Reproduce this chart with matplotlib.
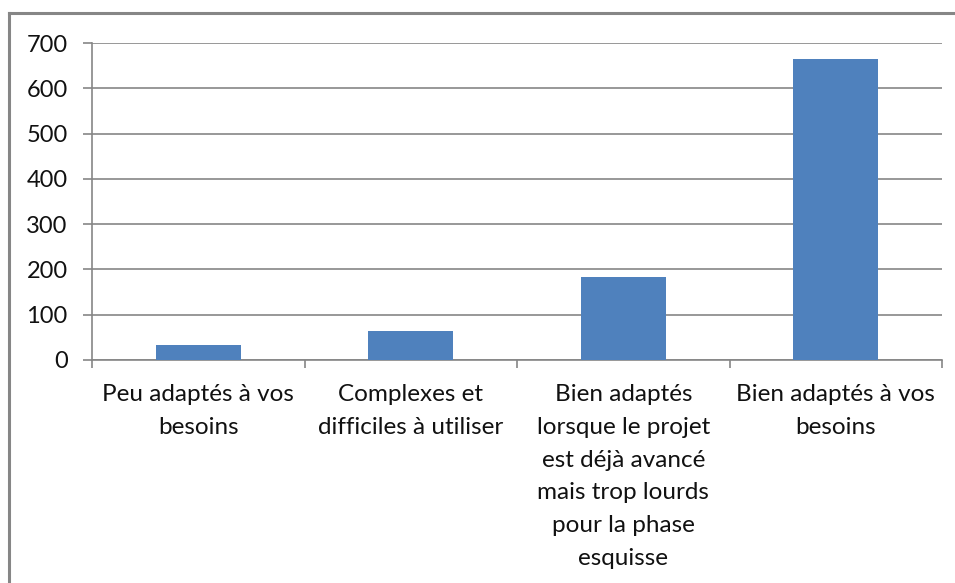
import matplotlib
matplotlib.use("Agg")
import matplotlib.pyplot as plt
from matplotlib.lines import Line2D
import numpy as np

categories = [
    "Peu adaptés à vos\nbesoins",
    "Complexes et\ndifficiles à utiliser",
    "Bien adaptés\nlorsque le projet\nest déjà avancé\nmais trop lourds\npour la phase\nesquisse",
    "Bien adaptés à vos\nbesoins",
]
values = [34, 65, 184, 664]
yticks = [0, 100, 200, 300, 400, 500, 600, 700]

plt.rcParams['font.family'] = ['Lato', 'DejaVu Sans']
W, H = 955, 583
fig = plt.figure(figsize=(W / 100, H / 100), dpi=100)
fig.patch.set_facecolor('white')

ax = fig.add_axes([92 / W, 1 - 360 / H, (942 - 92) / W, (360 - 43) / H])
x = np.arange(len(categories))
ax.bar(x, values, width=0.4, color='#4F81BD', zorder=3)
ax.set_xlim(-0.5, len(categories) - 0.5)
ax.set_ylim(0, 700)
ax.set_yticks(yticks)
ax.set_yticklabels([str(v) for v in yticks])
ax.grid(axis='y', color='#868686', linewidth=1.2, zorder=0)
for s in ['top', 'right']:
    ax.spines[s].set_visible(False)
ax.spines['left'].set_color('#868686')
ax.spines['bottom'].set_color('#868686')
ax.spines['left'].set_linewidth(1.2)
ax.spines['bottom'].set_linewidth(1.2)

ax.tick_params(axis='y', length=6.5, width=1.2, color='#868686', pad=11,
               labelsize=17, labelcolor='#111111')
# x ticks at category boundaries
ax.set_xticks(np.arange(len(categories) + 1) - 0.5)
ax.set_xticklabels([])
ax.tick_params(axis='x', length=6, width=1.2, color='#868686')
for xi, lab in zip(x, categories):
    ax.text(xi, -0.075, lab, transform=ax.get_xaxis_transform(), ha='center', va='top',
            fontsize=17.5, color='#111111', linespacing=1.7)

# outer chart border (top and left only visible)
fig.add_artist(Line2D([9 / W, 1.0], [1 - 13 / H, 1 - 13 / H], transform=fig.transFigure,
                      color='#868686', linewidth=2.2))
fig.add_artist(Line2D([9 / W, 9 / W], [0, 1 - 13 / H], transform=fig.transFigure,
                      color='#868686', linewidth=2.2))

fig.savefig("out.png", dpi=100, facecolor='white')
